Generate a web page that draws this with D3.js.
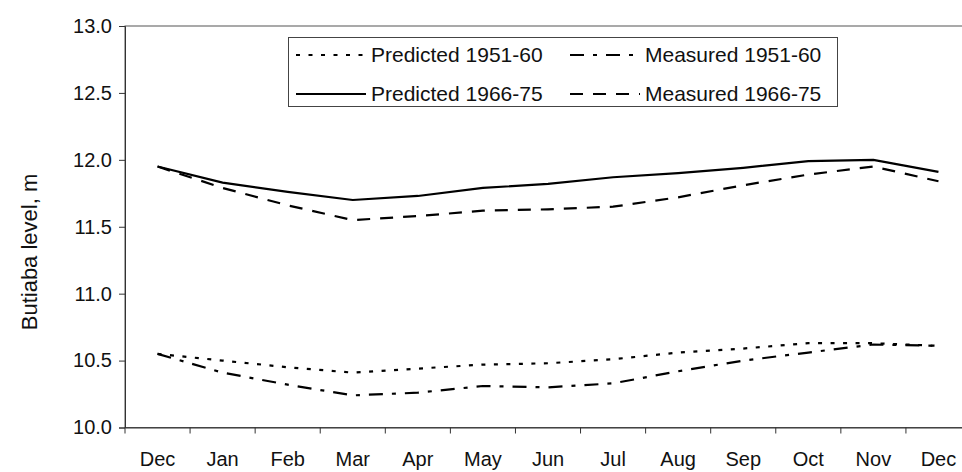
<!DOCTYPE html>
<html>
<head>
<meta charset="utf-8">
<script src="https://cdn.jsdelivr.net/npm/d3@7"></script>
<style>
  html, body { margin: 0; padding: 0; background: #fff; }
  svg { display: block; font-family: "Liberation Sans", Arial, sans-serif; }
</style>
</head>
<body>
<svg id="chart" width="962" height="472"></svg>
<script>
// ---- data ----
const months = ["Dec","Jan","Feb","Mar","Apr","May","Jun","Jul","Aug","Sep","Oct","Nov","Dec"];
const predicted1951 = [10.55, 10.50, 10.45, 10.41, 10.44, 10.47, 10.48, 10.51, 10.56, 10.59, 10.63, 10.63, 10.61];
const measured1951  = [10.55, 10.41, 10.32, 10.24, 10.26, 10.31, 10.30, 10.33, 10.42, 10.50, 10.56, 10.62, 10.61];
const predicted1966 = [11.95, 11.83, 11.76, 11.70, 11.73, 11.79, 11.82, 11.87, 11.90, 11.94, 11.99, 12.00, 11.91];
const measured1966  = [11.95, 11.79, 11.66, 11.55, 11.58, 11.62, 11.63, 11.65, 11.72, 11.81, 11.89, 11.95, 11.84];
const yTicks = [10.0, 10.5, 11.0, 11.5, 12.0, 12.5, 13.0];
const seriesNames = ["Predicted 1951-60", "Measured 1951-60", "Predicted 1966-75", "Measured 1966-75"];

// ---- layout ----
const svg = d3.select("#chart");
const plot = { left: 125, right: 971, top: 26, bottom: 427.5 };

const x = d3.scaleBand().domain(d3.range(months.length)).range([plot.left, plot.right]).paddingInner(0).paddingOuter(0);
const y = d3.scaleLinear().domain([10, 13]).range([plot.bottom, plot.top]);
const cx = i => x(i) + x.bandwidth() / 2;

const series = [
  { name: seriesNames[0], values: predicted1951, dash: "4,8.5" },
  { name: seriesNames[1], values: measured1951,  dash: "14,9,4,9" },
  { name: seriesNames[2], values: predicted1966, dash: null },
  { name: seriesNames[3], values: measured1966,  dash: "13,10" }
];

// plot frame (top border)
svg.append("rect")
  .attr("x", plot.left).attr("y", plot.top)
  .attr("width", plot.right - plot.left).attr("height", plot.bottom - plot.top)
  .attr("fill", "none").attr("stroke", "#555").attr("stroke-width", 1);

// y axis
const yAxis = d3.axisLeft(y).tickValues(yTicks).tickFormat(d3.format(".1f")).tickSize(6).tickPadding(7);
const gy = svg.append("g").attr("transform", `translate(${plot.left},0)`).call(yAxis);
gy.select(".domain").attr("stroke", "#333");
gy.selectAll(".tick line").attr("stroke", "#333");
gy.selectAll(".tick text").attr("font-size", 20).attr("fill", "#111")
  .attr("font-family", "'Liberation Sans', Arial, sans-serif");

// x axis (labels centered in categories, tick marks at category boundaries)
const xAxis = d3.axisBottom(x).tickFormat(i => months[i]).tickSize(0).tickPadding(24);
const gx = svg.append("g").attr("transform", `translate(0,${plot.bottom})`).call(xAxis);
gx.select(".domain").attr("stroke", "#333");
gx.selectAll(".tick text").attr("font-size", 20).attr("fill", "#111")
  .attr("font-family", "'Liberation Sans', Arial, sans-serif");
gx.selectAll(".boundary")
  .data(d3.range(months.length + 1))
  .join("line")
  .attr("class", "boundary")
  .attr("x1", i => i < months.length ? x(i) : plot.right)
  .attr("x2", i => i < months.length ? x(i) : plot.right)
  .attr("y1", 0).attr("y2", 6)
  .attr("stroke", "#333");

// y axis title
svg.append("text")
  .attr("transform", `translate(37,252) rotate(-90)`)
  .attr("text-anchor", "middle")
  .attr("font-size", 22)
  .attr("fill", "#111")
  .text("Butiaba level, m");

// lines
const line = d3.line().x((d, i) => cx(i)).y(d => y(d));
svg.append("g").selectAll("path")
  .data(series)
  .join("path")
  .attr("d", s => line(s.values))
  .attr("fill", "none")
  .attr("stroke", "#000")
  .attr("stroke-width", 2.2)
  .attr("stroke-dasharray", s => s.dash);

// legend
const legend = svg.append("g");
legend.append("rect")
  .attr("x", 288.5).attr("y", 37.5).attr("width", 549).attr("height", 69)
  .attr("fill", "#fff").attr("stroke", "#444").attr("stroke-width", 1);
const legendPos = [
  { x: 296, y: 55 }, { x: 570, y: 55 },
  { x: 296, y: 94 }, { x: 570, y: 94 }
];
series.forEach((s, k) => {
  const p = legendPos[k];
  legend.append("line")
    .attr("x1", p.x).attr("x2", p.x + 70)
    .attr("y1", p.y).attr("y2", p.y)
    .attr("stroke", "#000").attr("stroke-width", 2.2)
    .attr("stroke-dasharray", s.dash);
  legend.append("text")
    .attr("x", p.x + 75).attr("y", p.y)
    .attr("dy", "0.35em")
    .attr("font-size", 21)
    .attr("fill", "#111")
    .text(s.name);
});
</script>
</body>
</html>
